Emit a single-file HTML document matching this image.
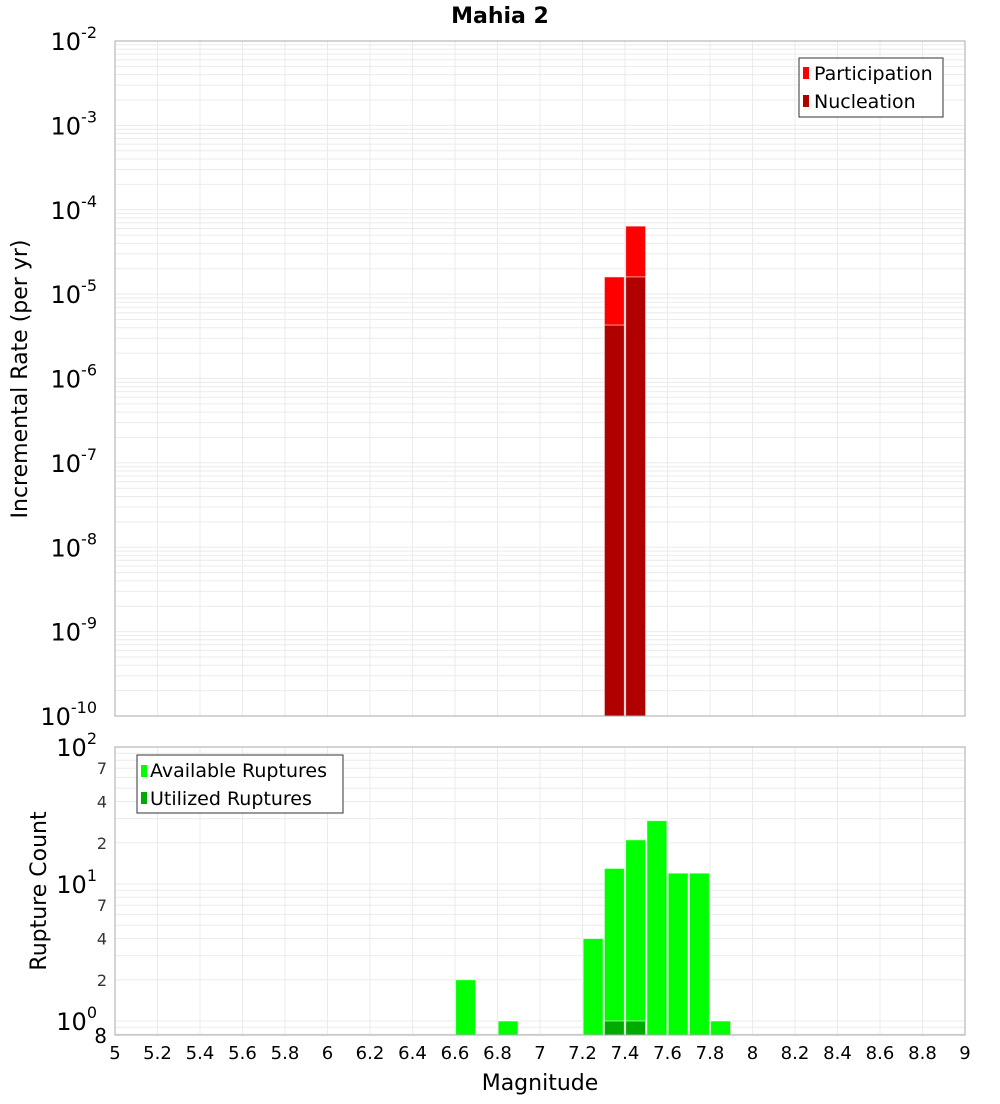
<!DOCTYPE html>
<html><head><meta charset="utf-8"><style>
body{margin:0;background:#fff;font-family:"DejaVu Sans","Liberation Sans",sans-serif}
svg text{font-family:"DejaVu Sans","Liberation Sans",sans-serif}
</style></head><body>
<svg id="c" width="1000" height="1100" xmlns="http://www.w3.org/2000/svg">
<text x="500" y="23" text-anchor="middle" font-size="22" font-weight="bold">Mahia 2</text>
<g id="topPlot"></g>
<g id="botPlot"></g>
<text transform="translate(27,379) rotate(-90)" text-anchor="middle" font-size="22">Incremental Rate (per yr)</text>
<text transform="translate(46,891) rotate(-90)" text-anchor="middle" font-size="22">Rupture Count</text>
<text x="540" y="1090" text-anchor="middle" font-size="22">Magnitude</text>
<g>
<rect x="799" y="58" width="144" height="59" fill="#fff" stroke="#333" stroke-width="1"/>
<rect x="803" y="67" width="6" height="12" fill="#ff0000"/>
<text x="814" y="80" font-size="19">Participation</text>
<rect x="803" y="95" width="6" height="12" fill="#b00000"/>
<text x="814" y="108" font-size="19">Nucleation</text>
</g>
<g>
<rect x="137" y="755" width="206" height="58" fill="#fff" stroke="#333" stroke-width="1"/>
<rect x="141" y="765" width="6" height="12" fill="#00ff00"/>
<text x="150" y="777" font-size="19">Available Ruptures</text>
<rect x="141" y="792" width="6" height="12" fill="#00aa00"/>
<text x="150" y="805" font-size="19">Utilized Ruptures</text>
</g>
</svg>
<script>
const rateMags=[7.35,7.45];
const participation=[1.6e-5,6.4e-5];
const nucleation=[4.3e-6,1.6e-5];
const countMags=[6.65,6.85,7.25,7.35,7.45,7.55,7.65,7.75,7.85];
const available=[2,1,4,13,21,29,12,12,1];
const utilizedMags=[7.35,7.45];
const utilized=[1,1];
const xTicks=[5,5.2,5.4,5.6,5.8,6,6.2,6.4,6.6,6.8,7,7.2,7.4,7.6,7.8,8,8.2,8.4,8.6,8.8,9];
const rateDecades=[-2,-3,-4,-5,-6,-7,-8,-9,-10];
const countDecades=[2,1,0];
const countMinor=[2,4,7];

const NS='http://www.w3.org/2000/svg';
const X0=115,X1=965;
const xs=m=>X0+(m-5)/4*(X1-X0);
const T0=41,T1=716,B0=747,B1=1035;
const ysTop=v=>T0+(-2-Math.log10(v))*(T1-T0)/8;
const ysBot=v=>1021-Math.log10(v)*137;
function el(p,tag,a){const e=document.createElementNS(NS,tag);for(const k in a)e.setAttribute(k,a[k]);p.appendChild(e);return e;}
function sup(p,x,y,base,exp,nm){const t=el(p,'text',{x:x,y:y,'text-anchor':'end','font-size':24});


t.textContent=base;const s=el(t,'tspan',{dy:-12,'font-size':16});s.textContent=exp;return t;}

function frame(g,y0,y1,ys,lo,hi){
  el(g,'rect',{x:X0,y:y0,width:X1-X0,height:y1-y0,fill:'#fff'});
  for(let d=lo;d<hi;d++)for(let k=1;k<10;k++){const y=ys(k*Math.pow(10,d));if(y>=y0&&y<=y1){const l=el(g,'line',{x1:X0,x2:X1,y1:y,y2:y,stroke:'#ebebeb','stroke-width':1});
  
  }}
  xTicks.forEach(t=>{const x=xs(t);const l=el(g,'line',{x1:x,x2:x,y1:y0,y2:y1,stroke:'#ebebeb'});
  
  });
}
function bars(g,mags,vals,ys,base,col,nm){
  mags.forEach((m,i)=>{const x=xs(m-0.047),w=xs(m+0.047)-x,y=ys(vals[i]);
  const r=el(g,'rect',{x:x,y:y,width:w,height:base-y,fill:col,stroke:'#fff','stroke-opacity':0.6,'stroke-width':1});
  
  });
}
const topG=document.getElementById('topPlot'),botG=document.getElementById('botPlot');
frame(topG,T0,T1,ysTop,-10,-2);
bars(topG,rateMags,participation,ysTop,T1,'#ff0000','participation');
bars(topG,rateMags,nucleation,ysTop,T1,'#b00000','nucleation');
el(topG,'rect',{x:X0,y:T0,width:X1-X0,height:T1-T0,fill:'none',stroke:'#aaa'});
rateDecades.forEach(d=>{sup(topG,97,ysTop(Math.pow(10,d))+9,'10',String(d),'y-tick-label');});

frame(botG,B0,B1,ysBot,-1,2);
bars(botG,countMags,available,ysBot,B1,'#00ff00','available');
bars(botG,utilizedMags,utilized,ysBot,B1,'#00aa00','utilized');
el(botG,'rect',{x:X0,y:B0,width:X1-X0,height:B1-B0,fill:'none',stroke:'#aaa'});
countDecades.forEach(d=>{sup(botG,97,ysBot(Math.pow(10,d))+9,'10',String(d),'y-tick-label');});
[0,1].forEach(d=>countMinor.forEach(k=>{const t=el(botG,'text',{x:107,y:ysBot(k*Math.pow(10,d))+6,'text-anchor':'end','font-size':16,fill:'#333'});


t.textContent=k;}));
const e8=el(botG,'text',{x:107,y:1043,'text-anchor':'end','font-size':20});


e8.textContent='8';
xTicks.forEach(t=>{const tx=el(botG,'text',{x:xs(t),y:1059,'text-anchor':'middle','font-size':18});


tx.textContent=String(t);});
</script>
</body></html>
